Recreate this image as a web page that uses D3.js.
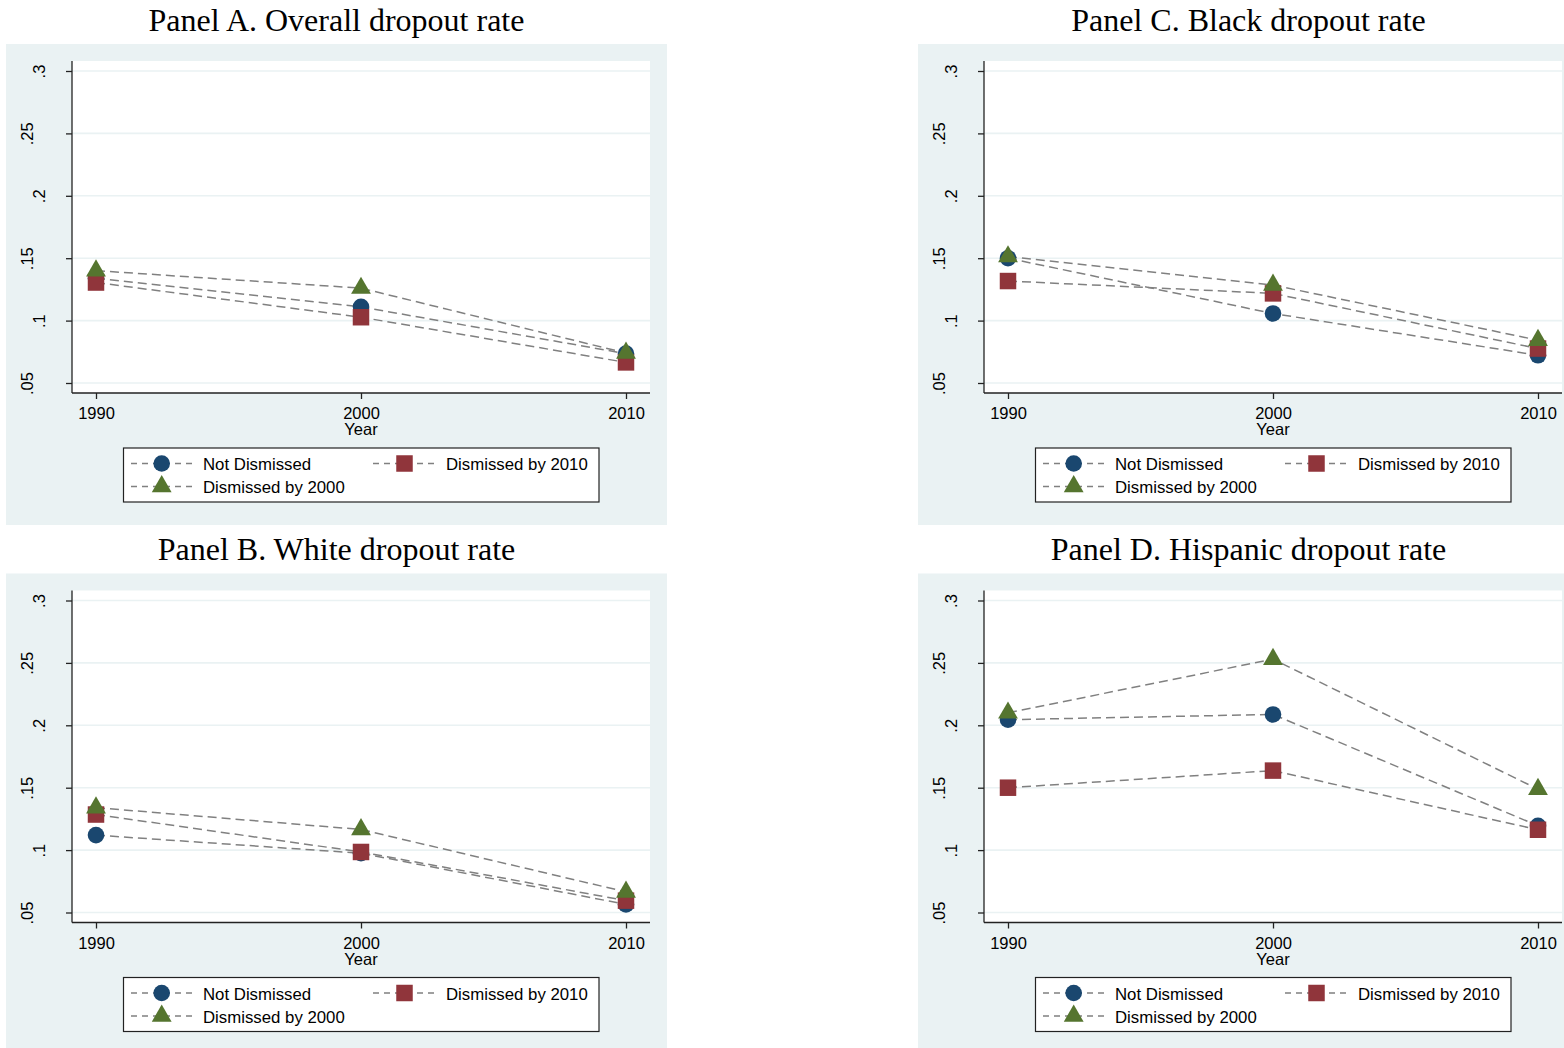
<!DOCTYPE html>
<html><head><meta charset="utf-8">
<script src="https://cdn.jsdelivr.net/npm/d3@7"></script>
<style>body{margin:0;background:#fff;overflow:hidden}</style>
</head><body>
<svg id="chart" width="1564" height="1048"></svg>
<script>
// ---------------- data ----------------
const years = [1990, 2000, 2010];
const yTicks = [0.05, 0.1, 0.15, 0.2, 0.25, 0.3];
const seriesNames = ["Not Dismissed", "Dismissed by 2010", "Dismissed by 2000"];
const panelTitles = ["Panel A. Overall dropout rate", "Panel C. Black dropout rate",
                     "Panel B. White dropout rate", "Panel D. Hispanic dropout rate"];
const xAxisTitle = "Year";

const overallNotDismissed = [0.134, 0.111, 0.0735];
const overallDismissed2010 = [0.1305, 0.1027, 0.0665];
const overallDismissed2000 = [0.140, 0.126, 0.074];

const blackNotDismissed = [0.150, 0.1057, 0.0722];
const blackDismissed2010 = [0.1317, 0.1218, 0.0776];
const blackDismissed2000 = [0.1513, 0.1285, 0.0843];

const whiteNotDismissed = [0.112, 0.0975, 0.0565];
const whiteDismissed2010 = [0.1285, 0.0985, 0.0595];
const whiteDismissed2000 = [0.134, 0.1165, 0.0665];

const hispanicNotDismissed = [0.2045, 0.2087, 0.1195];
const hispanicDismissed2010 = [0.150, 0.1637, 0.1163];
const hispanicDismissed2000 = [0.210, 0.253, 0.1488];

// ---------------- styling ----------------
const colors = ["#1a476f", "#90353b", "#55752f"];
const symbols = [d3.symbolCircle, d3.symbolSquare, d3.symbolTriangle];
const symbolSizes = [Math.PI * 8.3 * 8.3, 16.5 * 16.5, 170];
const bg = "#eaf2f3";
const lineColor = "#808080";

const panels = [
  {title: panelTitles[0], series: [overallNotDismissed, overallDismissed2010, overallDismissed2000], dx: 0, dy: 0},
  {title: panelTitles[1], series: [blackNotDismissed, blackDismissed2010, blackDismissed2000], dx: 912, dy: 0},
  {title: panelTitles[2], series: [whiteNotDismissed, whiteDismissed2010, whiteDismissed2000], dx: 0, dy: 529.5},
  {title: panelTitles[3], series: [hispanicNotDismissed, hispanicDismissed2010, hispanicDismissed2000], dx: 912, dy: 529.5}
];

const svg = d3.select("#chart");
const sans = "'Liberation Sans', Arial, Helvetica, sans-serif";
const serif = "'Liberation Serif', 'Times New Roman', Times, serif";

// plot geometry (per panel)
const plot = {left: 72, right: 650, top: 61, bottom: 393};
const x = d3.scaleLinear().domain([1990, 2010]).range([96, 626]);
const y = d3.scaleLinear().domain([0.05, 0.3]).range([383, 71]);
const fmt = d => String(d).replace(/^0/, "");

panels.forEach(p => {
  const g = svg.append("g").attr("transform", `translate(${p.dx},${p.dy})`);

  // graph region
  g.append("rect").attr("x", 6).attr("y", 44).attr("width", 661).attr("height", 481).attr("fill", bg);
  // plot region
  g.append("rect").attr("x", plot.left).attr("y", plot.top)
    .attr("width", plot.right - plot.left).attr("height", plot.bottom - plot.top).attr("fill", "#fff");

  // gridlines
  g.append("g").selectAll("line").data(yTicks).join("line")
    .attr("x1", plot.left).attr("x2", plot.right)
    .attr("y1", d => y(d)).attr("y2", d => y(d))
    .attr("stroke", bg).attr("stroke-width", 1.6);

  // y axis
  const ya = g.append("g").attr("transform", `translate(${plot.left},0)`)
    .call(d3.axisLeft(y).tickValues(yTicks).tickSize(6).tickSizeOuter(0).tickFormat(fmt));
  ya.select(".domain").remove();
  ya.selectAll(".tick line").attr("stroke", "#222").attr("stroke-width", 1.3);
  ya.selectAll(".tick text")
    .attr("transform", "rotate(-90)")
    .attr("text-anchor", "middle")
    .attr("x", 0).attr("dy", 0)
    .attr("y", d => fmt(d).length > 2 ? -(plot.left - 33) : -(plot.left - 45))
    .attr("fill", "#000")
    .style("font-family", sans).style("font-size", "16.5px");
  g.append("line").attr("x1", plot.left).attr("x2", plot.left)
    .attr("y1", plot.top).attr("y2", plot.bottom).attr("stroke", "#222").attr("stroke-width", 1.3);

  // x axis
  const xa = g.append("g").attr("transform", `translate(0,${plot.bottom})`)
    .call(d3.axisBottom(x).tickValues(years).tickSize(6).tickSizeOuter(0).tickFormat(d3.format("d")));
  xa.select(".domain").remove();
  xa.selectAll(".tick line").attr("stroke", "#222").attr("stroke-width", 1.3);
  xa.selectAll(".tick text").attr("y", 26).attr("dy", 0).attr("fill", "#000")
    .style("font-family", sans).style("font-size", "16.5px");
  g.append("line").attr("x1", plot.left).attr("x2", plot.right)
    .attr("y1", plot.bottom).attr("y2", plot.bottom).attr("stroke", "#222").attr("stroke-width", 1.3);
  g.append("text").attr("x", (plot.left + plot.right) / 2).attr("y", 435)
    .attr("text-anchor", "middle").style("font-family", sans).style("font-size", "16.5px")
    .text(xAxisTitle);

  // lines
  const line = d3.line().x((d, i) => x(years[i])).y(d => y(d));
  p.series.forEach(s => {
    g.append("path").attr("d", line(s)).attr("fill", "none")
      .attr("stroke", lineColor).attr("stroke-width", 1.5).attr("stroke-dasharray", "9,5");
  });
  // markers
  p.series.forEach((s, k) => {
    g.append("g").selectAll("path").data(s).join("path")
      .attr("transform", (d, i) => `translate(${x(years[i])},${y(d)})`)
      .attr("d", d3.symbol().type(symbols[k]).size(symbolSizes[k]))
      .attr("fill", colors[k]);
  });

  // legend
  const lg = g.append("g");
  lg.append("rect").attr("x", 123.5).attr("y", 448).attr("width", 475.5).attr("height", 54)
    .attr("fill", "#fff").attr("stroke", "#222").attr("stroke-width", 1.2);
  const legendPos = [
    {kx: 131, mx: 161.7, tx: 203, my: 463.5, ty: 470},
    {kx: 373, mx: 404.5, tx: 446, my: 463.5, ty: 470},
    {kx: 131, mx: 161.7, tx: 203, my: 486.5, ty: 493}
  ];
  seriesNames.forEach((name, k) => {
    const L = legendPos[k];
    lg.append("line").attr("x1", L.kx).attr("x2", L.kx + 62).attr("y1", L.my).attr("y2", L.my)
      .attr("stroke", lineColor).attr("stroke-width", 1.5).attr("stroke-dasharray", "6,5");
    lg.append("path").attr("transform", `translate(${L.mx},${L.my})`)
      .attr("d", d3.symbol().type(symbols[k]).size(symbolSizes[k])).attr("fill", colors[k]);
    lg.append("text").attr("x", L.tx).attr("y", L.ty)
      .style("font-family", sans).style("font-size", "16.8px").text(name);
  });

  // title
  g.append("text").attr("x", 336.5).attr("y", 30.5).attr("text-anchor", "middle")
    .style("font-family", serif).style("font-size", "32px").text(p.title);
});
</script>
</body></html>
